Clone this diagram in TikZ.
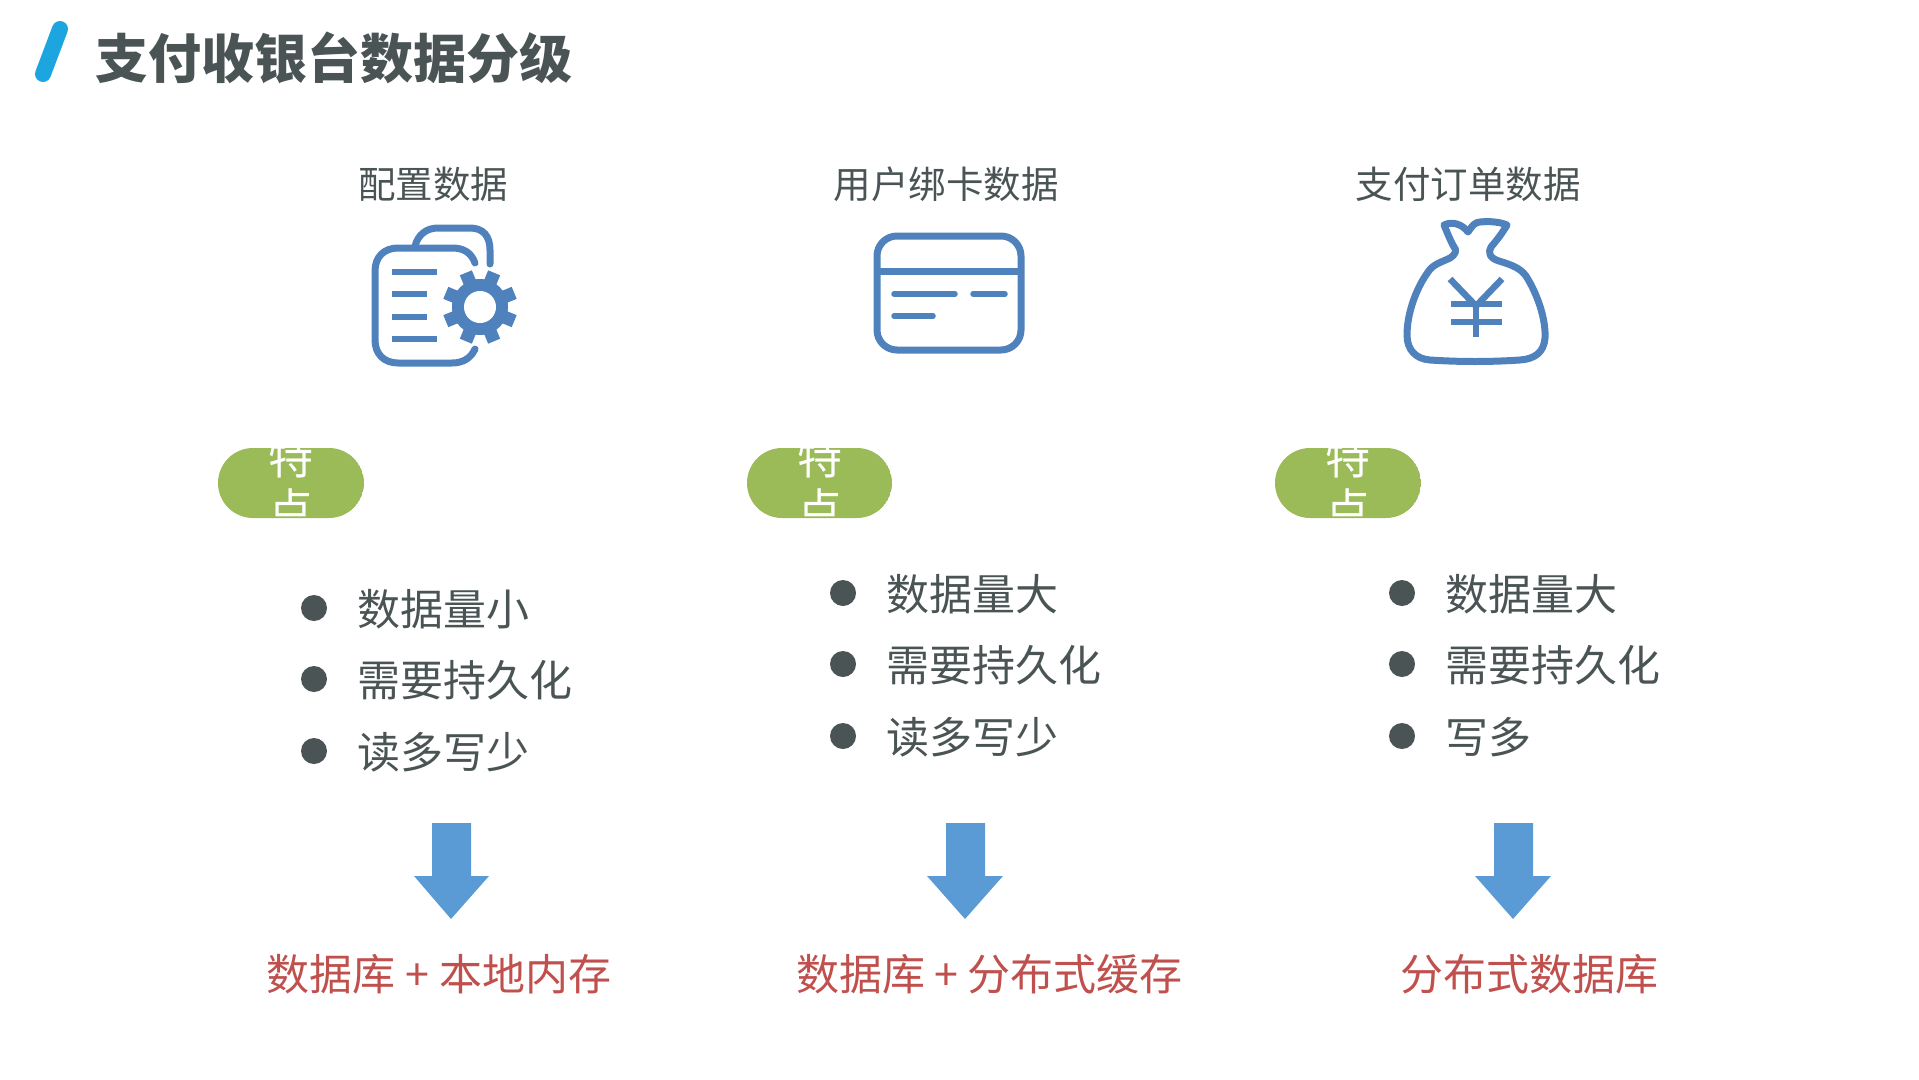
\documentclass[tikz,border=0pt]{standalone}
\usepackage{fontspec}
\setmainfont{Noto Sans CJK SC}
\usetikzlibrary{calc}
\definecolor{inkgray}{HTML}{4A5455}
\definecolor{iconblue}{HTML}{4F81BD}
\definecolor{pillgreen}{HTML}{9BBB59}
\definecolor{arrowblue}{HTML}{5B9BD5}
\definecolor{storered}{HTML}{C0504D}
\definecolor{slashblue}{HTML}{1CA5DF}
\tikzset{
  heading/.style={text=inkgray,inner sep=0pt,font=\fontsize{37.5}{40}\selectfont},
  point/.style={text=inkgray,inner sep=0pt,anchor=west,font=\fontsize{43}{46}\selectfont},
  store/.style={text=storered,inner sep=0pt,anchor=west,font=\fontsize{43}{46}\selectfont},
  pilltext/.style={text=white,inner sep=0pt,font=\fontsize{45}{46}\selectfont},
  icon/.style={draw=iconblue,line width=7pt,line cap=round,line join=round},
  iconline/.style={draw=iconblue,line width=5.5pt},
}

\begin{document}
\begin{tikzpicture}[x=1pt,y=-1pt]
\useasboundingbox (0,0) rectangle (1919,1079);

% Title with slash
\draw [slashblue,line width=16pt,line cap=round] (60,29) -- (43,74);
\node [text=inkgray,inner sep=0pt,anchor=west,font=\fontsize{53}{56}\selectfont\bfseries] (title) at (95,58) {支付收银台数据分级};

% Column headings
\node [heading] (head-config) at (433,184) {配置数据};
\node [heading] (head-card) at (946,184) {用户绑卡数据};
\node [heading] (head-order) at (1468,184) {支付订单数据};

% Document icon
\draw [icon] (475,263) .. controls (471,252) and (463,248) .. (452,248) -- (398,248) .. controls (384,248) and (375,257) .. (375,271) -- (375,340) .. controls (375,354) and (384,363) .. (398,363) -- (452,363) .. controls (463,363) and (471,358) .. (475,349);
\draw [icon] (415,246) .. controls (418,235) and (426,228) .. (438,228) -- (470,228) .. controls (483,228) and (490,236) .. (490,250) -- (490,264);
\draw [iconline] (392,272) -- (437,272);
\draw [iconline] (392,294) -- (427,294);
\draw [iconline] (392,317) -- (427,317);
\draw [iconline] (392,339) -- (437,339);

% Gear
\coordinate (gear) at (480,307);
\fill [iconblue] (gear) circle (28pt);
\draw [iconblue,line width=13pt] ($(gear)+(22.5:37)$) -- ($(gear)+(202.5:37)$);
\draw [iconblue,line width=13pt] ($(gear)+(67.5:37)$) -- ($(gear)+(247.5:37)$);
\draw [iconblue,line width=13pt] ($(gear)+(112.5:37)$) -- ($(gear)+(292.5:37)$);
\draw [iconblue,line width=13pt] ($(gear)+(157.5:37)$) -- ($(gear)+(337.5:37)$);
\fill [white] (gear) circle (16pt);

% Card icon
\draw [icon] (877,236) [rounded corners=20pt] rectangle (1021,350);
\draw [icon,line cap=butt] (877,271) -- (1021,271);
\draw [iconline,line cap=round] (894,294) -- (955,294);
\draw [iconline,line cap=round] (973,294) -- (1005,294);
\draw [iconline,line cap=round] (894,316) -- (933,316);

% Money bag icon
\draw [icon] (1444,225) .. controls (1452,221) and (1462,224) .. (1468,232) .. controls (1472,226) and (1475,222) .. (1480,222) .. controls (1490,221) and (1500,222) .. (1507,225) .. controls (1503,232) and (1497,240) .. (1491,247) .. controls (1488,252) and (1489,258) .. (1499,261) .. controls (1512,265) and (1520,268) .. (1526,276) .. controls (1538,295) and (1546,320) .. (1545,338) .. controls (1544,352) and (1535,359) .. (1520,360) .. controls (1490,362) and (1460,362) .. (1430,360) .. controls (1416,359) and (1407,350) .. (1407,335) .. controls (1407,315) and (1415,290) .. (1428,272) .. controls (1433,264) and (1442,262) .. (1450,258) .. controls (1456,254) and (1457,250) .. (1454,247) .. controls (1450,240) and (1447,232) .. (1444,225) -- cycle;
\draw [iconline,line width=6.5pt] (1450,279) -- (1476,306) -- (1502,279);
\draw [iconline,line width=6.5pt] (1476,304) -- (1476,337);
\draw [iconline,line width=6.5pt] (1451,304) -- (1502,304);
\draw [iconline,line width=6.5pt] (1451,322) -- (1502,322);

% Clipped pills
\begin{scope}
\clip (218,448) [rounded corners=35pt] rectangle (364,518);
\fill [pillgreen] (218,448) [rounded corners=35pt] rectangle (364,518);
\node [pilltext] (pill-a1) at (291,457) {特};
\node [pilltext] (pill-a2) at (291,509) {点};
\end{scope}
\begin{scope}
\clip (747,448) [rounded corners=35pt] rectangle (892,518);
\fill [pillgreen] (747,448) [rounded corners=35pt] rectangle (892,518);
\node [pilltext] (pill-b1) at (820,457) {特};
\node [pilltext] (pill-b2) at (820,509) {点};
\end{scope}
\begin{scope}
\clip (1275,448) [rounded corners=35pt] rectangle (1421,518);
\fill [pillgreen] (1275,448) [rounded corners=35pt] rectangle (1421,518);
\node [pilltext] (pill-c1) at (1348,457) {特};
\node [pilltext] (pill-c2) at (1348,509) {点};
\end{scope}

% First column points
\fill [inkgray] (314,608) circle (13pt);
\fill [inkgray] (314,679) circle (13pt);
\fill [inkgray] (314,751) circle (13pt);
\node [point] (a-size) at (357,609) {数据量小};
\node [point] (a-keep) at (357,680) {需要持久化};
\node [point] (a-rw) at (357,752) {读多写少};

% Second column points
\fill [inkgray] (843,593) circle (13pt);
\fill [inkgray] (843,664) circle (13pt);
\fill [inkgray] (843,736) circle (13pt);
\node [point] (b-size) at (886,594) {数据量大};
\node [point] (b-keep) at (886,665) {需要持久化};
\node [point] (b-rw) at (886,737) {读多写少};

% Third column points
\fill [inkgray] (1402,593) circle (13pt);
\fill [inkgray] (1402,664) circle (13pt);
\fill [inkgray] (1402,736) circle (13pt);
\node [point] (c-size) at (1445,594) {数据量大};
\node [point] (c-keep) at (1445,665) {需要持久化};
\node [point] (c-rw) at (1445,737) {写多};

% Down arrows
\fill [arrowblue] (432,823) -- (471,823) -- (471,876) -- (489,876) -- (451,919) -- (414,876) -- (432,876) -- cycle;
\fill [arrowblue] (946,823) -- (985,823) -- (985,876) -- (1003,876) -- (965,919) -- (927,876) -- (946,876) -- cycle;
\fill [arrowblue] (1494,823) -- (1533,823) -- (1533,876) -- (1551,876) -- (1513,919) -- (1475,876) -- (1494,876) -- cycle;

% Storage choices
\node [store] (a-store) at (266.5,974) {数据库\hspace{10pt}+\hspace{10pt}本地内存};
\node [store] (b-store) at (796.5,974) {数据库\hspace{9pt}+\hspace{9pt}分布式缓存};
\node [store] (c-store) at (1400,974) {分布式数据库};

\end{tikzpicture}
\end{document}
